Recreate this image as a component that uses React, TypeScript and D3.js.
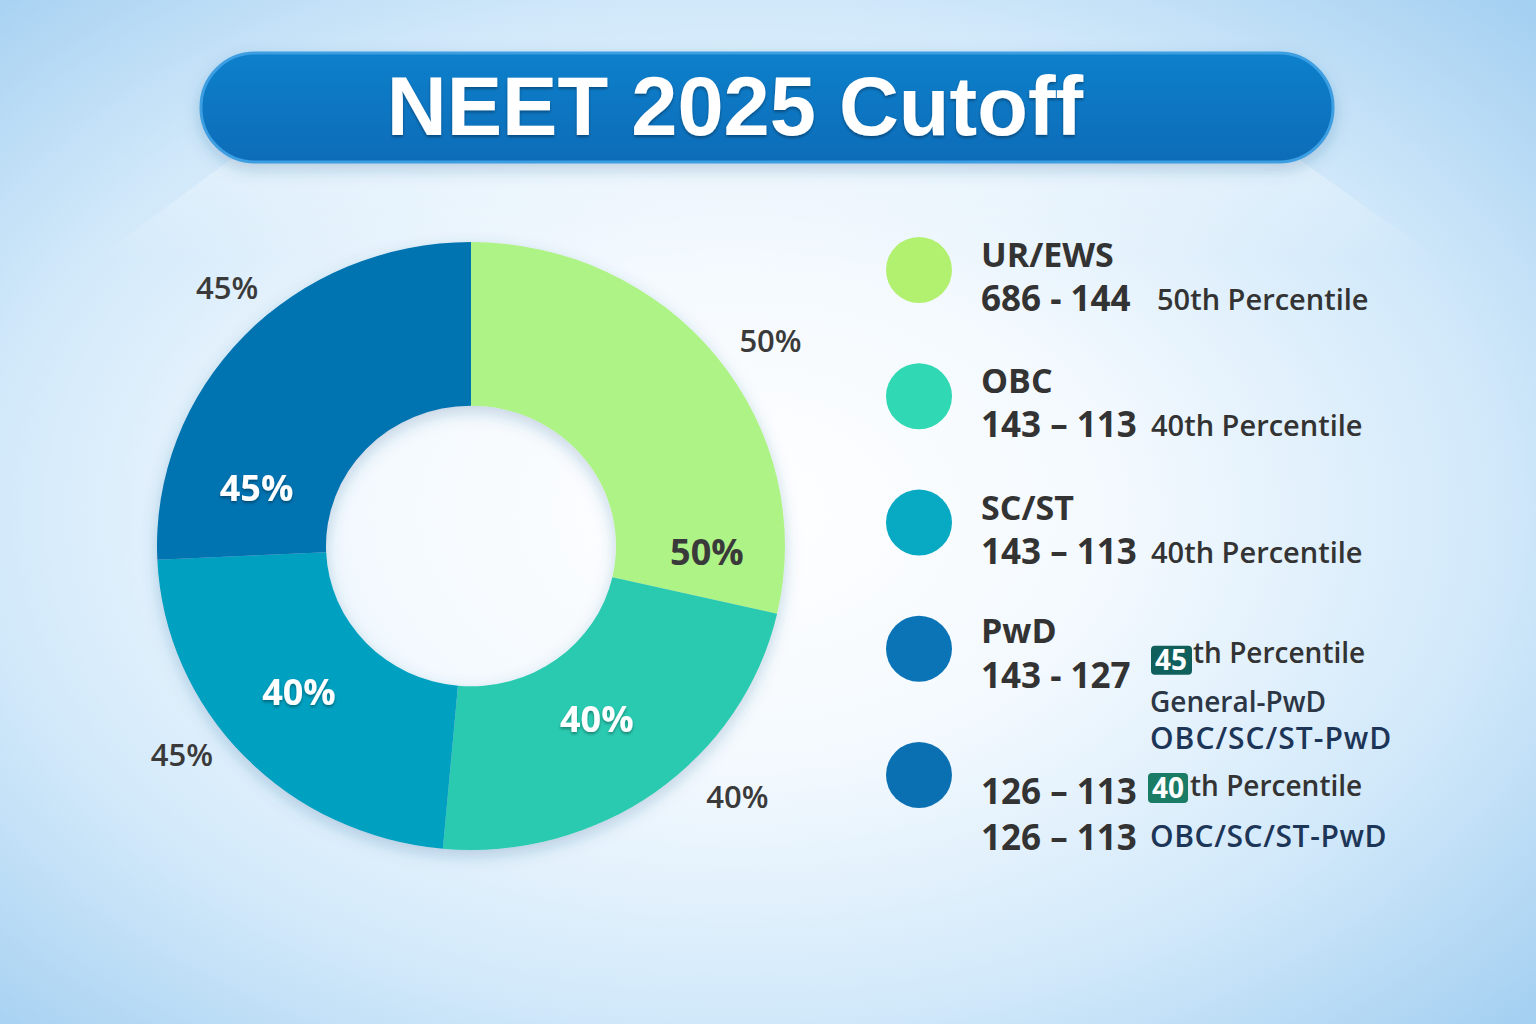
import React from "react";
import * as d3 from "d3";

const W = 1536;
const H = 1024;

const title = "NEET 2025 Cutoff";
const categories = ["UR/EWS", "OBC", "SC/ST", "PwD"];
const sliceValues = [50, 40, 40, 45];
const sliceColors = ["#aef386", "#2bcab1", "#06a0c0", "#0673b1"];
const innerLabels = ["50%", "40%", "40%", "45%"];
const innerLabelColors = ["#3a3a3a", "#ffffff", "#ffffff", "#ffffff"];
const innerLabelFrac = [0.89, 0.5, 0.54, 0.19];
const innerLabelRad = [236, 214, 226, 222];
const outerLabels = ["50%", "40%", "45%", "45%"];
const outerLabelAngle = [55.6, 133.3, 234.1, 316.6];
const outerLabelRad = [363, 366, 357, 355];

const legendColors = ["#b2f070", "#30d8b3", "#08a9c2", "#0a74b7", "#0b70b2"];
const legendTitles = ["UR/EWS", "OBC", "SC/ST", "PwD", ""];
const legendRanges = ["686 - 144", "143 – 113", "143 – 113", "143 - 127", "126 – 113"];
const legendPercentiles = ["50th Percentile", "40th Percentile", "40th Percentile", "th Percentile", "th Percentile"];
const legendBadges = ["", "", "", "45", "40"];
const badgeColors = ["", "", "", "#0f5f5c", "#1b7c66"];

const FONT = "'Open Sans', 'Noto Sans', sans-serif";
const TITLE_FONT = "'Liberation Sans', Arial, sans-serif";

export default function App() {
  const cx = 471;
  const cy = 546;
  const outerR = 314;
  const innerR = 145;
  const squash = 0.968;

  const pie = d3.pie<number>().sort(null).value((d) => d).startAngle(0).endAngle(2 * Math.PI);
  const arcs = pie(sliceValues);
  const arc = d3.arc<d3.PieArcDatum<number>>().innerRadius(innerR).outerRadius(outerR);

  const rowY = d3.scalePoint<number>().domain([0, 1, 2, 3, 4]).range([270, 775]);

  const polar = (angDeg: number, r: number) => {
    const a = (angDeg * Math.PI) / 180;
    return [Math.sin(a) * r, -Math.cos(a) * r];
  };

  return (
    <svg width={W} height={H} style={{ display: "block", position: "absolute", left: 0, top: 0 }} xmlns="http://www.w3.org/2000/svg">
      <defs>
        <radialGradient id="bg" cx="0.48" cy="0.5" r="0.72">
          <stop offset="0" stopColor="#ffffff" />
          <stop offset="0.35" stopColor="#f3f9fe" />
          <stop offset="0.68" stopColor="#d2e9fa" />
          <stop offset="1" stopColor="#a3cff1" />
        </radialGradient>
        <linearGradient id="banner" x1="0" y1="0" x2="0" y2="1">
          <stop offset="0" stopColor="#0d80cc" />
          <stop offset="1" stopColor="#0a6cb8" />
        </linearGradient>
        <linearGradient id="topglow" x1="0" y1="0" x2="0" y2="1">
          <stop offset="0" stopColor="#ffffff" stopOpacity="0.55" />
          <stop offset="1" stopColor="#ffffff" stopOpacity="0" />
        </linearGradient>
        <filter id="shadow" x="-20%" y="-20%" width="140%" height="150%">
          <feDropShadow dx="0" dy="6" stdDeviation="8" floodColor="#1a5a90" floodOpacity="0.25" />
        </filter>
        <filter id="txtshadow" x="-20%" y="-20%" width="140%" height="150%">
          <feDropShadow dx="0" dy="2" stdDeviation="1.5" floodColor="#000000" floodOpacity="0.35" />
        </filter>
      </defs>

      <rect x={0} y={0} width={W} height={H} fill="url(#bg)" />
      <polygon points="230,160 1300,160 1440,260 95,260" fill="url(#topglow)" opacity={0.6} />

      {/* Title banner */}
      <g filter="url(#shadow)">
        <rect x={201} y={53} width={1132} height={109} rx={54} fill="url(#banner)" stroke="#3d9ee2" strokeWidth={3} />
      </g>
      <text x={735} y={135} textAnchor="middle" fill="#ffffff" fontFamily={TITLE_FONT} fontWeight={700} fontSize={83} filter="url(#txtshadow)">
        {title}
      </text>

      {/* Donut */}
      <g transform={`translate(${cx},${cy})`}>
        <g filter="url(#shadow)" transform={`scale(1,${squash})`}>
          {arcs.map((a, i) => (
            <path key={categories[i]} d={arc(a) || ""} fill={sliceColors[i]} />
          ))}
        </g>
        {arcs.map((a, i) => {
          const ang = ((a.startAngle + (a.endAngle - a.startAngle) * innerLabelFrac[i]) * 180) / Math.PI;
          const [x, y] = polar(ang, innerLabelRad[i]);
          return (
            <text
              key={"in" + i}
              x={x}
              y={y}
              dy="0.35em"
              textAnchor="middle"
              fill={innerLabelColors[i]}
              fontFamily={FONT}
              fontWeight={700}
              fontSize={36}
              filter={innerLabelColors[i] === "#ffffff" ? "url(#txtshadow)" : undefined}
            >
              {innerLabels[i]}
            </text>
          );
        })}
        {outerLabels.map((t, i) => {
          const [x, y] = polar(outerLabelAngle[i], outerLabelRad[i]);
          return (
            <text key={"out" + i} x={x} y={y} dy="0.35em" textAnchor="middle" fill="#3a3a3a" fontFamily={FONT} fontWeight={600} fontSize={31}>
              {t}
            </text>
          );
        })}
      </g>

      {/* Legend */}
      {legendColors.map((c, i) => {
        const y = rowY(i) as number;
        return (
          <g key={"lg" + i}>
            <circle cx={919} cy={y} r={33} fill={c} />
            {legendTitles[i] && (
              <text x={981} y={y - (i === 3 ? 6 : 3)} fill="#333333" fontFamily={FONT} fontWeight={700} fontSize={34}>
                {legendTitles[i]}
              </text>
            )}
          </g>
        );
      })}

      {/* Row detail lines */}
      {[0, 1, 2].map((i) => {
        const y = rowY(i) as number;
        return (
          <g key={"rd" + i}>
            <text x={981} y={y + 41} fill="#333333" fontFamily={FONT} fontWeight={700} fontSize={35}>
              {legendRanges[i]}
            </text>
            <text x={i === 0 ? 1157 : 1151} y={y + 40} fill="#333333" fontFamily={FONT} fontWeight={600} fontSize={29}>
              {legendPercentiles[i]}
            </text>
          </g>
        );
      })}

      {/* PwD row */}
      {(() => {
        const y = rowY(3) as number;
        return (
          <g>
            <text x={981} y={y + 39} fill="#333333" fontFamily={FONT} fontWeight={700} fontSize={35}>
              {legendRanges[3]}
            </text>
            <rect x={1151} y={y - 3} width={41} height={29} rx={4} fill={badgeColors[3]} />
            <text x={1171} y={y + 21} textAnchor="middle" fill="#ffffff" fontFamily={FONT} fontWeight={700} fontSize={28}>
              {legendBadges[3]}
            </text>
            <text x={1193} y={y + 14} fill="#333333" fontFamily={FONT} fontWeight={600} fontSize={28}>
              {legendPercentiles[3]}
            </text>
            <text x={1150} y={y + 63} fill="#2c3644" fontFamily={FONT} fontWeight={600} fontSize={28}>
              General-PwD
            </text>
            <text x={1150} y={y + 100} fill="#1d3557" fontFamily={FONT} fontWeight={600} fontSize={30} letterSpacing={1}>
              OBC/SC/ST-PwD
            </text>
          </g>
        );
      })()}

      {/* Last row */}
      {(() => {
        const y = rowY(4) as number;
        return (
          <g>
            <text x={981} y={y + 29} fill="#333333" fontFamily={FONT} fontWeight={700} fontSize={35}>
              {legendRanges[4]}
            </text>
            <rect x={1148} y={y - 2} width={40} height={30} rx={4} fill={badgeColors[4]} />
            <text x={1168} y={y + 23} textAnchor="middle" fill="#ffffff" fontFamily={FONT} fontWeight={700} fontSize={28}>
              {legendBadges[4]}
            </text>
            <text x={1190} y={y + 21} fill="#333333" fontFamily={FONT} fontWeight={600} fontSize={28}>
              {legendPercentiles[4]}
            </text>
            <text x={981} y={y + 75} fill="#333333" fontFamily={FONT} fontWeight={700} fontSize={35}>
              {legendRanges[4]}
            </text>
            <text x={1150} y={y + 72} fill="#1d3557" fontFamily={FONT} fontWeight={600} fontSize={30} letterSpacing={0.6}>
              OBC/SC/ST-PwD
            </text>
          </g>
        );
      })()}
    </svg>
  );
}
